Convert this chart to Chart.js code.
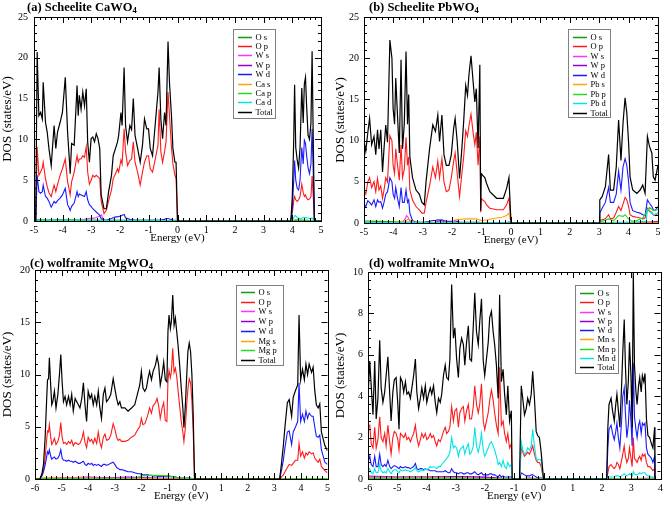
<!DOCTYPE html>
<html><head><meta charset="utf-8">
<script src="https://cdn.jsdelivr.net/npm/chart.js@4/dist/chart.umd.min.js"></script>
<style>
html,body{margin:0;padding:0;background:#fff;}
#wrap{position:relative;width:666px;height:505px;overflow:hidden;background:#fff;}
canvas{position:absolute;}
.ttl{position:absolute;font:bold 12.5px 'Liberation Serif','Times New Roman',serif;white-space:nowrap;line-height:14px;color:#000;}
.ttl sub{font-size:8.5px;vertical-align:-2px;line-height:0;}
</style></head><body>
<div id="wrap">
<canvas id="ca" width="333" height="250" style="left:0;top:0"></canvas>
<canvas id="cb" width="333" height="250" style="left:333px;top:0"></canvas>
<canvas id="cc" width="333" height="255" style="left:0;top:250px"></canvas>
<canvas id="cd" width="333" height="255" style="left:333px;top:250px"></canvas>
<div class="ttl" style="left:27px;top:0px">(a) Scheelite CaWO<sub>4</sub></div>
<div class="ttl" style="left:369px;top:0px">(b) Scheelite PbWO<sub>4</sub></div>
<div class="ttl" style="left:30px;top:256px">(c) wolframite MgWO<sub>4</sub></div>
<div class="ttl" style="left:369px;top:256px">(d) wolframite MnWO<sub>4</sub></div>
</div>
<script>
// ---------------- Panel (a) Scheelite CaWO4 ----------------
const aE = [-5,
 -4.94,-4.89,-4.83,-4.77,-4.71,-4.68,-4.6,-4.54,-4.48,-4.4,
 -4.3,-4.24,-4.18,-4.09,-4.01,-3.91,-3.83,-3.77,-3.74,-3.69,
 -3.6,-3.5,-3.46,-3.42,-3.36,-3.3,-3.24,-3.18,-3.13,-3.07,
 -3.01,-2.95,-2.89,-2.83,-2.77,-2.71,-2.66,-2.56,-2.48,-2.4,
 -2.3,-2.24,-2.16,-2.09,-2.05,-1.97,-1.93,-1.86,-1.81,-1.74,
 -1.66,-1.6,-1.54,-1.48,-1.39,-1.3,-1.22,-1.15,-1.07,-1.01,
 -0.95,-0.87,-0.78,-0.68,-0.64,-0.58,-0.52,-0.45,-0.4,-0.33,
 -0.28,-0.21,-0.16,-0.09,-0.05,0,
 3.95,4.0,4.05,4.08,4.12,4.17,4.22,4.27,4.33,4.38,4.42,4.46,4.5,4.55,4.6,4.65,4.69,4.73,4.77,5];
const aTotal = [0,
 0,20.7,12.9,13.3,12.5,17,12.1,10.9,8.9,6.8,
 11.7,8.9,10.9,12.1,13.3,17.6,10.9,7.6,5.8,9.5,
 9.3,16.6,12.9,15.4,13.7,15.8,14.1,16.2,9.7,7.2,
 10.1,10.3,9.7,10.7,10.1,8.9,3.2,1.5,1.5,3.6,
 5.6,8.0,8.9,9.7,10.5,13.3,11.7,18.8,11.7,9.7,
 11.7,11.2,15,10.5,8.9,7.2,9.3,12.5,11.3,11.3,
 8.9,8.0,11.7,15.8,18.8,12.5,10.1,13.3,11.7,22,
 17,12.9,8.9,7.2,7.2,0,
 0,3,10,16.7,9,7.5,6.5,9,16.3,12,16.8,17.6,14,10.5,10,12,20.8,10,0,0];
const aOp = [0,
 0,9.1,5.6,6.0,6.5,7.2,5.2,4.2,3.5,3.0,
 4.4,3.6,4.5,5.6,6.4,7.6,4.8,3.8,3.2,4.8,
 6.0,8.0,7.2,7.6,7.6,8.0,7.8,9.1,6.0,4.5,
 5.0,5.6,5.4,5.6,5.4,5.2,2.4,0.9,1.3,2.5,
 3.8,5.2,5.8,6.4,6.0,7.5,7.0,11.3,8.5,6.8,
 7.4,7.6,9.7,7.2,6.0,4.4,6.0,7.2,8.0,8.0,
 6.4,6.0,7.5,9.3,13.7,8.5,7.2,8.5,9.7,15.8,
 12.9,9.0,7.0,5.6,5.2,0,
 0,1,2.5,3.0,2.6,2.4,2.6,3.0,4.5,3.5,3.0,3.2,2.8,2.6,2.7,3.0,5.5,3,0,0];
const aWd = [0,
 0,5.6,3.6,3.4,3.6,4.4,3.0,2.8,2.4,1.7,
 2.4,2.2,2.5,2.8,3.2,4.0,2.0,1.6,1.3,1.8,
 2.2,3.6,3.0,3.3,3.2,3.1,3.0,3.6,2.6,2.0,
 1.8,1.5,1.3,1.1,0.9,0.7,0.3,0.1,0.1,0.2,
 0.3,0.4,0.5,0.5,0.55,0.6,0.7,0.8,0.4,0.3,
 0.2,0.15,0.15,0.1,0.1,0.1,0.1,0.1,0.1,0.1,
 0.1,0.1,0.1,0.1,0.1,0.1,0.15,0.2,0.3,0.3,
 0.25,0.2,0.1,0.1,0.1,0,
 0,1.5,5,7.4,5,4,3.8,5,9,7,9.9,9.5,8,6.5,5.8,7,11.3,6,0,0];
const aOsE = [-5,-4.94,-4.9,-4.5,-4,-3.5,-3,-2.5,-2,-1.5,-1,-0.5,0,3.95,4.1,4.5,4.77,5];
const aOs  = [0,0,0.15,0.12,0.15,0.12,0.1,0.08,0.1,0.1,0.1,0.1,0,0,0.1,0.1,0,0];
const aWsE = [-5,-4.94,-3.5,-3.3,-3.1,-2.9,-2.75,-2.65,-2.6,-2.5,0,5];
const aWs  = [0,0,0.05,0.15,0.3,0.35,0.55,0.75,0.3,0.05,0,0];
const aWpE = [-5,-4.94,-4.8,-3,0,3.95,4.2,4.77,5];
const aWp  = [0,0,0.05,0.05,0,0,0.05,0,0];
const aCasE = [-5,-4.94,-4.8,-2,0,5];
const aCas  = [0,0,0.05,0.05,0,0];
const aCapE = [-5,-4.94,-4.85,-4,-3,-2,-1,0,3.95,4.1,4.5,4.77,5];
const aCap  = [0,0,0.1,0.08,0.08,0.06,0.06,0,0,0.15,0.1,0,0];
const aCadE = [-5,-4.94,-4.8,-3,-1,0,3.95,4.05,4.1,4.2,4.3,4.4,4.5,4.6,4.7,4.77,5];
const aCad  = [0,0,0.1,0.1,0.1,0,0,0.4,0.7,0.35,0.3,0.45,0.4,0.3,0.35,0,0];

// ---------------- Panel (b) Scheelite PbWO4 ----------------
const bE = [
 -5.0,-4.94,-4.87,-4.81,-4.74,-4.66,-4.6,-4.54,-4.49,-4.43,
 -4.37,-4.32,-4.26,-4.2,-4.12,-4.05,-4.01,-3.96,-3.92,-3.86,
 -3.8,-3.74,-3.69,-3.63,-3.57,-3.52,-3.48,-3.44,-3.35,-3.23,
 -3.12,-3.03,-2.95,-2.89,-2.77,-2.66,-2.57,-2.49,-2.43,-2.35,
 -2.28,-2.2,-2.11,-2.03,-1.95,-1.9,-1.83,-1.75,-1.67,-1.61,
 -1.54,-1.48,-1.43,-1.36,-1.29,-1.23,-1.18,-1.12,-1.06,-1.03,
 -1.01,-0.97,-0.89,-0.83,-0.72,-0.49,-0.26,-0.15,-0.07,0,
 3.0,3.02,3.1,3.21,3.32,3.38,3.49,3.58,3.66,3.74,3.81,3.88,3.94,4.0,4.05,4.14,4.28,4.39,4.48,4.56,4.64,4.71,4.79,4.84,4.9,5.0];
const bTotal = [
 10,8.7,11,12.7,9.5,10.5,8.3,11.3,9,11.3,
 6.2,9,11.9,9.8,22.2,20,13.9,12,17.6,13,
 8.5,19.8,9,12,20.8,12,15.6,8,5.5,4,
 3.5,2.5,2.2,5,9,11.9,11.1,13.1,9.9,13.1,
 8.3,7,7,8.3,11.5,12.7,9.9,5.4,9.1,12.3,
 16.7,15.5,18,20.3,17.2,14.7,16.3,9.1,19.2,1.5,
 6,5.8,5.5,4.8,3.8,3,3,4.2,5.5,0,
 0,2.8,3.2,4.4,8.3,4.0,4.0,6.8,12.5,7.6,12.1,15.2,13.3,9.7,5.6,4.0,3.6,4.0,4.6,3.6,10.5,9.3,8.5,5.6,5.2,7];
const bOp = [
 4,3.5,5.0,5.5,4.3,5.0,3.8,5.4,4.0,4.5,
 3.0,4.0,5.5,5.0,10.6,10.0,7.0,6.0,9.0,7.0,
 5.2,9.5,5.5,6.5,10.4,7.0,8.0,4.0,2.8,2.0,
 1.6,1.2,1.2,2.5,4.5,6.8,5.5,7.5,5.5,7.8,
 5,3.8,4,5.5,7.5,8.5,6,3.2,6,8,
 11.2,10.5,11.8,13.2,11,9.5,11,7,10.5,1.3,
 3,2.8,2.6,2.2,1.8,1.6,1.6,2.2,3.0,0,
 0,0.3,0.4,0.5,1.0,0.5,0.6,1.3,2.0,1.5,2.3,3.1,2.8,2.0,1.0,0.8,0.7,0.6,0.5,0.6,1.8,1.5,1.3,1.0,0.9,1.2];
const bWd = [
 2.3,2.0,2.7,2.5,2.2,2.8,2.0,2.8,2.5,2.6,
 1.8,2.5,3.5,3.8,5.5,5.0,3.5,3.0,4.3,3.0,
 2.0,4.3,2.5,2.5,4.0,2.5,2.8,1.2,0.3,0.1,
 0.1,0.1,0.1,0.15,0.2,0.3,0.3,0.4,0.35,0.4,
 0.3,0.2,0.2,0.2,0.25,0.25,0.2,0.1,0.1,0.1,
 0.1,0.1,0.1,0.1,0.1,0.1,0.1,0.1,0.1,0.05,
 0.05,0.05,0.05,0.05,0.05,0.05,0.05,0.05,0.1,0,
 0,1.2,1.8,2.5,4.3,2.5,2.5,3.5,6.3,4,6.8,7.8,7,5,2.5,1.5,1.3,1.2,1.0,0.9,2.8,2.4,2.0,1.6,1.5,2.0];
const bOsE = [-5,-4.5,-4,-3.5,-3,0,3,5];
const bOs  = [0.25,0.2,0.15,0.1,0.05,0,0,0.05];
const bWsE = [-5,-3.7,-3.6,-3.55,-3.5,-3.45,-3.35,0,3,5];
const bWs  = [0.05,0.1,0.5,0.9,0.7,0.3,0.05,0,0,0];
const bWpE = [-5,-2.6,-2.4,-2.2,0,3,4.5,5];
const bWp  = [0.05,0.05,0.3,0.05,0,0,0.05,0.2];
const bPbsE = [-5,-4,-3.6,-3.5,-3.3,-2,-1.9,-1.5,-1.2,-1.0,-0.8,-0.5,-0.3,-0.15,-0.07,0,3,3.5,4,4.5,5];
const bPbs  = [0.05,0.1,0.2,0.5,0.1,0.1,0.4,0.5,0.5,0.3,0.4,0.6,0.7,0.9,1.2,0,0,0.1,0.1,0.1,0.1];
const bPbpE = [-5,-3.5,0,3,3.02,3.32,3.49,3.66,3.81,3.88,4.0,4.14,4.28,4.48,4.64,4.71,4.84,5];
const bPbp  = [0.1,0.1,0,0,0.1,0.5,0.3,0.9,0.8,1.0,0.5,0.2,0.3,0.6,1.5,1.9,1.5,1.6];
const bPbdE = [-5,-3.5,0,3,4,4.6,4.64,4.71,4.84,5];
const bPbd  = [0.05,0.05,0,0,0.1,0.2,1.6,1.4,1.0,1.2];

// ---------------- Panel (c) wolframite MgWO4 ----------------
const cE = [-6,
 -5.81,-5.74,-5.68,-5.62,-5.57,-5.53,-5.49,-5.46,-5.41,-5.37,
 -5.33,-5.27,-5.21,-5.14,-5.08,-5.03,-4.98,-4.93,-4.87,-4.81,
 -4.74,-4.68,-4.62,-4.56,-4.49,-4.43,-4.37,-4.31,-4.24,-4.18,
 -4.12,-4.06,-4.0,-3.93,-3.87,-3.81,-3.75,-3.68,-3.62,-3.56,
 -3.5,-3.43,-3.37,-3.31,-3.22,-3.15,-3.06,-3.0,-2.93,-2.87,
 -2.81,-2.75,-2.62,-2.5,-2.37,-2.25,-2.12,-2.06,-2.0,-1.94,
 -1.87,-1.81,-1.75,-1.69,-1.62,-1.56,-1.47,-1.41,-1.35,-1.29,
 -1.22,-1.16,-1.1,-1.04,-1.0,-0.96,-0.91,-0.87,-0.82,-0.77,
 -0.72,-0.67,-0.62,-0.56,-0.5,-0.44,-0.4,-0.35,-0.3,-0.25,
 -0.2,-0.15,-0.1,-0.05,0,
 3.2,3.27,3.34,3.4,3.49,3.56,3.65,3.71,3.8,3.88,3.93,3.99,4.06,4.13,4.19,4.25,4.31,4.4,4.46,4.52,4.58,4.65,4.71,4.77,4.9,5.0];
const cTotal = [0,
 0,0.5,1.4,3.9,7.1,9.5,9.6,11.6,9.0,7.1,
 7.4,8.4,6.8,8.1,10.0,11.9,9.3,7.4,7.9,7.1,
 7.9,7.1,8.1,6.5,7.7,7.4,7.1,6.8,7.7,9.2,
 7.1,5.5,8.4,7.7,8.1,7.1,7.9,7.1,8.4,6.8,
 5.8,8.1,8.7,7.4,7.7,8.1,9.6,8.7,7.7,7.1,
 7.4,6.8,6.8,6.5,6.8,7.1,8.4,9.0,10.3,8.7,
 8.4,8.7,9.6,10.3,9.5,10.3,10.9,11.7,10.9,9.0,
 10.0,11.2,9.5,9.3,14.1,15.7,14.4,15.1,17.6,14.7,
 15.4,14.1,12.8,10.9,8.7,6.8,4.9,6.8,9.6,12.2,
 13.0,12.2,10.0,6.1,0,
 0,1.5,3.2,5,7.3,7.6,6.0,7.8,8.5,9,15.7,9.5,10.5,9.5,11,10,11,10.2,10.7,8.5,7.1,6.8,7.2,4.5,3.2,2.7];
const cOp = [0,
 0,0.3,0.8,2.0,3.5,4.6,4.5,5.2,4.0,3.3,
 3.5,3.9,3.3,3.6,4.2,5.4,4.0,3.4,3.5,3.3,
 3.6,3.4,3.7,3.2,3.5,3.4,3.3,3.4,3.8,4.5,
 3.5,3.0,4.0,3.6,3.8,3.4,3.9,3.4,4.5,3.5,
 3.0,4.0,4.3,3.7,3.8,4.2,5.3,4.8,4.0,3.7,
 3.8,3.6,3.6,3.7,4.0,4.2,4.8,5.0,5.8,5.2,
 5.3,5.7,6.2,6.8,6.3,7.0,7.3,7.7,7.0,5.8,
 6.8,7.3,5.6,5.5,9.4,10.4,9.7,10.3,12.5,10.2,
 10.6,9.8,8.5,7.0,5.5,4.5,3.6,4.8,6.9,8.6,
 9.6,9.2,7.5,4.5,0,
 0,0.2,0.4,0.7,1.1,1.4,1.3,1.5,1.8,1.8,3.4,2.2,2.6,2.0,2.5,2.3,2.6,2.4,2.5,2.0,1.8,1.6,1.9,1.2,0.8,0.6];
const cWd = [0,
 0,0.3,0.7,1.3,2.0,2.6,2.4,2.8,2.2,1.9,
 2.0,2.1,1.9,2.0,2.3,2.8,2.0,1.8,1.8,1.7,
 1.8,1.7,1.7,1.6,1.7,1.6,1.5,1.5,1.6,1.7,
 1.4,1.3,1.5,1.4,1.5,1.3,1.4,1.3,1.4,1.3,
 1.2,1.4,1.4,1.3,1.4,1.5,1.6,1.4,1.1,1.0,
 0.9,0.9,0.8,0.7,0.7,0.6,0.5,0.5,0.45,0.4,
 0.4,0.4,0.4,0.35,0.35,0.3,0.3,0.3,0.25,0.25,
 0.25,0.3,0.25,0.2,0.35,0.3,0.25,0.2,0.25,0.2,
 0.2,0.15,0.15,0.15,0.1,0.1,0.1,0.1,0.1,0.1,
 0.1,0.1,0.05,0.05,0,
 0,0.8,1.8,3,4.5,4.6,3.3,4.5,5,5.5,9.2,5.5,6.2,5.5,6.5,5.8,6.3,6.0,6.0,5,4.1,4.0,4.2,2.8,1.6,1.4];
const cOsE = [-6,-5.8,-3,0,3.2,5];
const cOs  = [0,0.05,0.05,0,0,0];
const cWsE = [-6,-5.8,-5.5,-4.5,-4,-3.5,-3,-2.5,-2,0,3.2,5];
const cWs  = [0,0.05,0.15,0.15,0.2,0.15,0.15,0.2,0.15,0,0,0.05];
const cWpE = [-6,-5.8,-2,-1,0,3.2,5];
const cWp  = [0,0.05,0.1,0.05,0,0,0];
const cMgsE = [-6,-5.8,-5.5,-5,-4,-3,-2,0,3.2,5];
const cMgs  = [0,0.1,0.15,0.1,0.1,0.05,0.05,0,0,0];
const cMgpE = [-6,-5.8,-4,-2.2,-2,-1.5,-1,-0.5,0,3.2,5];
const cMgp  = [0,0.05,0.05,0.1,0.3,0.35,0.3,0.1,0,0,0.05];

// ---------------- Panel (d) wolframite MnWO4 ----------------
const dE = [
 -6.0,-5.94,-5.89,-5.83,-5.77,-5.72,-5.66,-5.6,-5.55,-5.49,
 -5.43,-5.38,-5.32,-5.26,-5.21,-5.15,-5.1,-5.04,-4.98,-4.94,
 -4.89,-4.83,-4.78,-4.72,-4.67,-4.61,-4.55,-4.5,-4.44,-4.38,
 -4.33,-4.27,-4.21,-4.16,-4.1,-4.04,-3.99,-3.93,-3.87,-3.82,
 -3.76,-3.7,-3.65,-3.59,-3.53,-3.48,-3.42,-3.36,-3.31,-3.25,
 -3.2,-3.14,-3.08,-3.03,-2.97,-2.91,-2.86,-2.8,-2.74,-2.69,
 -2.63,-2.57,-2.52,-2.46,-2.4,-2.35,-2.29,-2.23,-2.18,-2.12,
 -2.06,-2.01,-1.95,-1.89,-1.84,-1.78,-1.72,-1.67,-1.61,-1.55,
 -1.5,-1.44,-1.38,-1.33,-1.27,-1.22,-1.16,-1.1,-1.07,
 -0.82,-0.76,-0.71,-0.65,-0.59,-0.54,-0.48,-0.42,-0.37,-0.31,-0.25,-0.2,-0.14,-0.08,0,
 2.16,2.2,2.24,2.31,2.36,2.42,2.47,2.51,2.56,2.61,2.67,2.71,2.76,2.8,2.85,2.9,2.94,2.99,3.03,3.07,3.11,3.16,3.2,3.25,3.29,3.34,3.38,3.43,3.47,3.52,3.57,3.63,3.69,3.74,3.8,3.81];
const dTotal = [
 3.9,5.7,4.5,3.1,5.7,2.9,3.9,6.7,4.4,3.7,
 4.2,5.0,5.9,4.2,2.8,4.2,4.8,4.9,3.6,2.4,
 4.9,4.7,4.2,4.7,4.1,4.2,3.9,4.4,5.0,5.8,
 4.2,3.4,3.9,4.4,3.9,4.5,3.7,4.1,4.4,4.1,
 4.5,3.7,3.2,3.9,3.7,4.1,5.0,5.5,4.9,4.8,
 5.8,9.4,6.8,7.3,5.8,4.9,6.3,6.8,6.5,5.5,
 6.6,7.4,5.8,5.7,7.4,9.0,7.1,6.5,7.6,8.7,
 5.7,5.0,5.8,6.6,7.8,8.1,7.1,6.5,5.5,3.9,
 8.9,4.7,5.3,4.1,3.1,4.5,2.8,3.3,0,
 0,4.5,3.9,3.1,3.4,3.9,3.6,4.1,5.2,3.9,2.3,2.1,2.0,1.3,0,
 0,2.5,3.6,3.9,3.3,2.8,3.6,4.1,3.3,2.5,4.5,6.1,7.7,5.5,3.6,4.7,6.6,5.0,2.5,10.0,5.5,4.2,3.6,4.5,4.9,4.2,5.0,4.7,5.1,2.9,2.1,2.0,1.7,1.5,2.5,0];
const dOp = [
 2.5,2.6,1.7,1.5,2.5,1.5,1.9,3.0,2.0,1.8,
 2.2,1.6,2.6,1.8,1.2,2.0,2.3,2.2,1.9,1.4,
 2.2,2.1,2.0,2.2,1.9,2.0,1.8,2.0,2.2,2.6,
 2.0,1.6,1.9,2.2,2.0,2.2,1.9,2.0,2.2,2.0,
 2.1,1.8,1.6,1.9,1.8,2.0,2.3,2.5,2.2,2.3,
 2.5,3.5,2.8,3.3,3.4,2.5,3.2,3.4,3.5,2.8,
 3.3,3.6,2.9,2.9,3.5,4.5,3.6,3.2,3.6,4.6,
 2.8,2.4,2.8,3.2,3.8,4.3,3.8,3.2,2.6,2.2,
 5.4,2.6,2.8,2.2,1.8,2.2,1.5,1.7,0,
 0,1.6,1.3,1.1,1.2,1.3,1.2,1.4,1.6,1.2,0.9,0.8,0.8,0.6,0,
 0,0.3,0.6,0.7,0.6,0.5,0.6,0.8,0.7,0.5,0.9,1.2,1.6,1.1,0.8,1.0,1.5,1.0,0.6,2.0,1.0,0.9,0.8,1.0,1.1,0.9,1.2,1.1,1.2,0.8,0.6,0.6,0.5,0.4,0.5,0];
const dWd = [
 0.8,1.1,0.7,0.6,1.1,0.6,0.6,1.2,0.7,0.6,
 0.7,0.6,0.9,0.6,0.5,0.6,0.65,0.6,0.55,0.5,
 0.6,0.55,0.55,0.6,0.55,0.55,0.5,0.55,0.6,0.75,
 0.5,0.45,0.5,0.5,0.45,0.5,0.45,0.45,0.4,0.4,
 0.4,0.4,0.35,0.35,0.35,0.35,0.35,0.4,0.35,0.3,
 0.3,0.5,0.35,0.3,0.3,0.25,0.3,0.3,0.25,0.25,
 0.3,0.3,0.25,0.25,0.3,0.35,0.25,0.2,0.25,0.3,
 0.2,0.2,0.2,0.2,0.25,0.25,0.2,0.2,0.15,0.1,
 0.2,0.1,0.15,0.1,0.1,0.1,0.1,0.1,0,
 0,0.3,0.25,0.2,0.15,0.15,0.15,0.2,0.2,0.15,0.1,0.05,0.05,0.05,0,
 0,1.5,2.4,2.6,2.2,1.9,2.3,2.7,2.0,1.5,2.8,4.0,4.4,3.2,2.0,2.6,3.8,2.8,1.6,5.6,3.0,2.4,2.0,2.6,2.8,2.2,2.7,2.6,2.7,1.5,1.2,1.1,1.0,0.8,1.1,0];
const dMnd = [
 0.3,0.5,0.3,0.25,0.5,0.3,0.3,0.7,0.4,0.3,
 0.35,0.3,0.5,0.35,0.25,0.4,0.45,0.45,0.35,0.3,
 0.45,0.4,0.4,0.45,0.4,0.4,0.35,0.4,0.45,0.55,
 0.4,0.35,0.4,0.45,0.4,0.5,0.45,0.5,0.6,0.55,
 0.6,0.55,0.5,0.6,0.6,0.7,0.8,0.9,1.0,1.1,
 1.3,2.0,1.5,1.6,1.5,1.1,1.4,1.5,1.6,1.2,
 1.5,1.7,1.2,1.3,1.6,2.5,1.6,1.3,1.6,2.2,
 1.4,1.1,1.3,1.5,1.7,1.8,1.6,1.4,1.1,0.7,
 0.8,0.6,0.9,0.6,0.5,0.8,0.6,0.7,0,
 0,1.8,1.4,1.2,1.3,1.5,1.4,1.6,2.4,1.6,1.0,0.9,0.95,0.9,0,
 0,0.05,0.1,0.1,0.1,0.1,0.15,0.15,0.15,0.1,0.15,0.2,0.25,0.2,0.15,0.2,0.25,0.2,0.15,0.35,0.25,0.2,0.2,0.25,0.3,0.25,0.3,0.3,0.3,0.2,0.15,0.15,0.1,0.1,0.1,0];
const dOsE = [-6,-3,-1.07,-0.82,0,2.16,3.81];
const dOs  = [0.05,0.05,0,0,0,0,0];
const dWsE = [-6,-5,-4,-3,-2,-1.07,-0.82,0,2.16,3.81];
const dWs  = [0.15,0.1,0.1,0.1,0.08,0,0,0,0,0.05];
const dWpE = [-6,-4,-3,-2,-1.07,-0.82,-0.5,0,2.16,3.81];
const dWp  = [0.1,0.1,0.12,0.1,0,0,0.05,0,0,0];
const dMnsE = [-6,-3,-1.07,0,2.16,3.81];
const dMns  = [0.05,0.05,0,0,0,0];
const dMnpE = [-6,-3,-1.07,0,2.16,3.81];
const dMnp  = [0.03,0.03,0,0,0,0];

// ---------------- drawing ----------------
const FONT = "'Liberation Serif','Times New Roman',serif";
const COL = {Os:'#119a11', Op:'#ff1a1a', Ws:'#ff33ff', Wp:'#9400d3', Wd:'#1a1aff',
             Xs:'#ffa500', Xp:'#22dd22', Xd:'#00e5e5', T:'#000000'};

function pts(xs, ys){ return xs.map((x,i)=>({x:x, y:ys[i]})); }

const framePlugin = {
  id:'frame',
  afterDatasetsDraw(chart, args, o){
    const ctx = chart.ctx, a = chart.chartArea, x = chart.scales.x, y = chart.scales.y;
    ctx.save(); ctx.strokeStyle = '#000'; ctx.lineWidth = 1;
    ctx.beginPath();
    const nx = Math.round((x.max - x.min)/o.xMinor);
    for (let k=0;k<=nx;k++){
      const v = x.min + k*o.xMinor;
      const r = v/o.xMajor; const major = Math.abs(r - Math.round(r)) < 1e-6;
      const L = major ? 6 : 3; const px = Math.round(x.getPixelForValue(v)) + 0.5;
      ctx.moveTo(px, a.bottom); ctx.lineTo(px, a.bottom - L);
      ctx.moveTo(px, a.top); ctx.lineTo(px, a.top + L);
    }
    const ny = Math.round((y.max - y.min)/o.yMinor);
    for (let k=0;k<=ny;k++){
      const v = y.min + k*o.yMinor;
      const r = v/o.yMajor; const major = Math.abs(r - Math.round(r)) < 1e-6;
      const L = major ? 6 : 3; const py = Math.round(y.getPixelForValue(v)) + 0.5;
      ctx.moveTo(a.left, py); ctx.lineTo(a.left + L, py);
      ctx.moveTo(a.right, py); ctx.lineTo(a.right - L, py);
    }
    ctx.stroke();
    ctx.strokeRect(Math.round(a.left)+0.5, Math.round(a.top)+0.5, Math.round(a.width), Math.round(a.height));
    ctx.restore();
  }
};

const legendPlugin = {
  id:'boxLegend',
  afterDraw(chart, args, o){
    const ctx = chart.ctx, a = chart.chartArea;
    const L = Math.round(a.left + o.dx) + 0.5, T = Math.round(a.top + o.dy) + 0.5;
    ctx.save();
    ctx.fillStyle = '#fff'; ctx.fillRect(L, T, o.w, o.h);
    ctx.strokeStyle = '#808080'; ctx.lineWidth = 1; ctx.strokeRect(L, T, o.w, o.h);
    ctx.font = '8.5px ' + FONT; ctx.textBaseline = 'middle'; ctx.textAlign = 'left';
    chart.data.datasets.forEach((d,i)=>{
      const yy = Math.round(T + o.first + i*o.row) + 0.5;
      ctx.strokeStyle = d.borderColor; ctx.lineWidth = 1.5;
      ctx.beginPath(); ctx.moveTo(L + 4.5, yy); ctx.lineTo(L + 18.5, yy); ctx.stroke();
      ctx.fillStyle = '#000'; ctx.fillText(d.label, L + 22, yy + 0.5);
    });
    ctx.restore();
  }
};

function makeChart(id, cfg){
  const n = cfg.series.length;
  const datasets = cfg.series.map((s,i)=>({
    label: s[0], borderColor: s[1], backgroundColor: s[1],
    data: pts(s[2], s[3]), borderWidth: s[1] === '#000000' ? 1.2 : 1.1,
    pointRadius: 0, tension: 0, fill: false, order: n - 1 - i
  }));
  return new Chart(document.getElementById(id), {
    type: 'line',
    data: { datasets },
    options: {
      responsive: false, animation: false, devicePixelRatio: 1,
      layout: { padding: cfg.pad },
      plugins: {
        legend: { display: false }, tooltip: { enabled: false },
        frame: { xMajor: 1, xMinor: 0.2, yMajor: cfg.ystep, yMinor: cfg.ystep/5 },
        boxLegend: cfg.legend
      },
      scales: {
        x: { type: 'linear', min: cfg.xmin, max: cfg.xmax,
             grid: { display: false, drawTicks: false }, border: { display: false },
             ticks: { stepSize: 1, autoSkip: false, maxRotation: 0, padding: 3, color: '#000', font: { family: FONT, size: 10 } },
             title: { display: true, text: 'Energy (eV)', color: '#000', font: { family: FONT, size: 11 }, padding: 0 },
             afterFit(s){ s.height = 24; } },
        y: { type: 'linear', min: 0, max: cfg.ymax,
             grid: { display: false, drawTicks: false }, border: { display: false },
             ticks: { stepSize: cfg.ystep, padding: cfg.tpad, color: '#000', font: { family: FONT, size: 10 } },
             title: { display: true, text: 'DOS (states/eV)', color: '#000', font: { family: FONT, size: 13 }, padding: 0 },
             afterFit(s){ s.width = cfg.yw; } }
      }
    },
    plugins: [framePlugin, legendPlugin]
  });
}

makeChart('ca', {
  xmin: -5, xmax: 5, ymax: 25, ystep: 5, yw: 34, tpad: 6,
  pad: { top: 17, right: 12, bottom: 5, left: 0 },
  legend: { dx: 199, dy: 12, w: 42, h: 89, row: 9.4, first: 7 },
  series: [
    ['O s', COL.Os, aOsE, aOs], ['O p', COL.Op, aE, aOp], ['W s', COL.Ws, aWsE, aWs],
    ['W p', COL.Wp, aWpE, aWp], ['W d', COL.Wd, aE, aWd], ['Ca s', COL.Xs, aCasE, aCas],
    ['Ca p', COL.Xp, aCapE, aCap], ['Ca d', COL.Xd, aCadE, aCad], ['Total', COL.T, aE, aTotal]
  ]
});
makeChart('cb', {
  xmin: -5, xmax: 5, ymax: 25, ystep: 5, yw: 31, tpad: 5,
  pad: { top: 17, right: 8, bottom: 3, left: 0 },
  legend: { dx: 204, dy: 11.5, w: 42, h: 88, row: 9.5, first: 7 },
  series: [
    ['O s', COL.Os, bOsE, bOs], ['O p', COL.Op, bE, bOp], ['W s', COL.Ws, bWsE, bWs],
    ['W p', COL.Wp, bWpE, bWp], ['W d', COL.Wd, bE, bWd], ['Pb s', COL.Xs, bPbsE, bPbs],
    ['Pb p', COL.Xp, bPbpE, bPbp], ['Pb d', COL.Xd, bPbdE, bPbd], ['Total', COL.T, bE, bTotal]
  ]
});
makeChart('cc', {
  xmin: -6, xmax: 5, ymax: 20, ystep: 5, yw: 35, tpad: 5,
  pad: { top: 20, right: 5, bottom: 2, left: 0 },
  legend: { dx: 201, dy: 15, w: 47, h: 80, row: 9.7, first: 6.5 },
  series: [
    ['O s', COL.Os, cOsE, cOs], ['O p', COL.Op, cE, cOp], ['W s', COL.Ws, cWsE, cWs],
    ['W p', COL.Wp, cWpE, cWp], ['W d', COL.Wd, cE, cWd], ['Mg s', COL.Xs, cMgsE, cMgs],
    ['Mg p', COL.Xp, cMgpE, cMgp], ['Total', COL.T, cE, cTotal]
  ]
});
makeChart('cd', {
  xmin: -6, xmax: 4, ymax: 10, ystep: 2, yw: 35, tpad: 5,
  pad: { top: 22, right: 4, bottom: 2, left: 0 },
  legend: { dx: 207, dy: 13, w: 43, h: 88, row: 9.25, first: 7.5 },
  series: [
    ['O s', COL.Os, dOsE, dOs], ['O p', COL.Op, dE, dOp], ['W s', COL.Ws, dWsE, dWs],
    ['W p', COL.Wp, dWpE, dWp], ['W d', COL.Wd, dE, dWd], ['Mn s', COL.Xs, dMnsE, dMns],
    ['Mn p', COL.Xp, dMnpE, dMnp], ['Mn d', COL.Xd, dE, dMnd], ['Total', COL.T, dE, dTotal]
  ]
});
</script>
</body></html>
